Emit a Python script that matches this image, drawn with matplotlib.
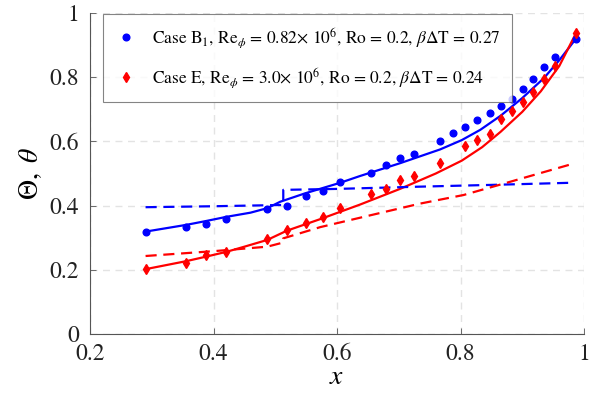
import numpy as np
import matplotlib
matplotlib.use("Agg")
import matplotlib.pyplot as plt
from matplotlib.ticker import FormatStrFormatter

plt.rcParams['font.family'] = ['STIXGeneral', 'DejaVu Serif']
plt.rcParams['mathtext.fontset'] = 'stix'

# 实验数据点 (Case B1)
xb_pts = [0.290, 0.356, 0.388, 0.421, 0.487, 0.519, 0.549, 0.577, 0.605, 0.655,
          0.679, 0.702, 0.725, 0.767, 0.788, 0.808, 0.827, 0.847, 0.865, 0.883,
          0.901, 0.918, 0.935, 0.953, 0.987]
yb_pts = [0.318, 0.333, 0.343, 0.358, 0.388, 0.398, 0.430, 0.447, 0.472, 0.503,
          0.526, 0.549, 0.562, 0.600, 0.627, 0.646, 0.667, 0.688, 0.710, 0.733,
          0.762, 0.794, 0.833, 0.864, 0.920]

# 实验数据点 (Case E)
xe_pts = [0.290, 0.356, 0.388, 0.421, 0.487, 0.519, 0.549, 0.577, 0.605, 0.655,
          0.679, 0.702, 0.725, 0.767, 0.808, 0.827, 0.847, 0.865, 0.883, 0.901,
          0.918, 0.935, 0.953, 0.987]
ye_pts = [0.202, 0.221, 0.245, 0.255, 0.297, 0.324, 0.346, 0.365, 0.391, 0.436,
          0.453, 0.481, 0.493, 0.533, 0.587, 0.604, 0.624, 0.671, 0.694, 0.723,
          0.755, 0.794, 0.835, 0.937]

# 模型曲线 (实线)
xb_fit = [0.290, 0.356, 0.388, 0.421, 0.460, 0.487, 0.508, 0.548, 0.605, 0.637,
          0.702, 0.767, 0.802, 0.832, 0.865, 0.900, 0.935, 0.960, 0.987]
yb_fit = [0.319, 0.340, 0.352, 0.365, 0.378, 0.392, 0.412, 0.438, 0.471, 0.492,
          0.532, 0.575, 0.604, 0.636, 0.680, 0.735, 0.797, 0.853, 0.920]
xe_fit = [0.290, 0.356, 0.388, 0.421, 0.450, 0.487, 0.519, 0.573, 0.637, 0.702,
          0.760, 0.802, 0.835, 0.865, 0.900, 0.930, 0.960, 0.987]
ye_fit = [0.202, 0.227, 0.241, 0.256, 0.272, 0.293, 0.322, 0.358, 0.403, 0.452,
          0.500, 0.540, 0.582, 0.630, 0.692, 0.756, 0.835, 0.937]

# 平均温度 (虚线)
xb_dash = [0.290, 0.400, 0.513, 0.513, 0.600, 0.734, 0.860, 0.977]
yb_dash = [0.395, 0.398, 0.402, 0.449, 0.452, 0.459, 0.465, 0.471]
xe_dash = [0.290, 0.400, 0.487, 0.513, 0.513, 0.573, 0.650, 0.734, 0.805, 0.880, 0.985]
ye_dash = [0.243, 0.258, 0.272, 0.285, 0.298, 0.333, 0.368, 0.406, 0.433, 0.474, 0.532]

xticks = [0.2, 0.4, 0.6, 0.8, 1.0]
yticks = [0.0, 0.2, 0.4, 0.6, 0.8, 1.0]

label_b = r'Case B$_1$, Re$_{\phi}$ = 0.82$\times$ 10$^6$, Ro = 0.2, $\beta\Delta$T = 0.27'
label_e = r'Case E, Re$_{\phi}$ = 3.0$\times$ 10$^6$, Ro = 0.2, $\beta\Delta$T = 0.24'

fig = plt.figure(figsize=(6.02, 4.07), dpi=100)
ax = fig.add_axes([90 / 602, 1 - 334 / 407, 494 / 602, 321 / 407])

ax.plot(xb_pts, yb_pts, 'o', color='#0000ff', markersize=4.8, label=label_b, zorder=3)
ax.plot(xe_pts, ye_pts, 'd', color='#ff0000', markersize=5.2, label=label_e, zorder=3)
ax.plot(xb_fit, yb_fit, '-', color='#0000ff', linewidth=1.6)
ax.plot(xe_fit, ye_fit, '-', color='#ff0000', linewidth=1.6)
ax.plot(xb_dash, yb_dash, '--', color='#0000ff', linewidth=1.6, dashes=(5, 3))
ax.plot(xe_dash, ye_dash, '--', color='#ff0000', linewidth=1.6, dashes=(5, 3))

ax.set_xlim(0.2, 1.0)
ax.set_ylim(0.0, 1.0)
ax.set_xticks(xticks)
ax.set_yticks(yticks)
ax.xaxis.set_major_formatter(FormatStrFormatter('%g'))
ax.yaxis.set_major_formatter(FormatStrFormatter('%g'))
ax.tick_params(direction='in', length=4, width=0.6, color='#555555',
               labelsize=17, labelcolor='#222222')
ax.tick_params(axis='x', pad=7)
ax.tick_params(axis='y', pad=8)

ax.grid(True, linestyle=(0, (5, 4)), color='#e3e3e3', linewidth=1.0)
ax.set_axisbelow(True)
for side in ['top', 'right']:
    ax.spines[side].set_visible(False)
for side in ['left', 'bottom']:
    ax.spines[side].set_color('#555555')
    ax.spines[side].set_linewidth(0.8)

ax.set_xlabel(r'$x$', fontsize=20, labelpad=0)
ax.set_ylabel(r'$\Theta,\ \theta$', fontsize=20, labelpad=4)

leg = ax.legend(loc='upper left', bbox_to_anchor=(13 / 494, 1 - 1 / 321),
                fontsize=12.5, frameon=True, fancybox=False,
                edgecolor='#666666', handlelength=1.2, handletextpad=0.9,
                borderpad=0.7, labelspacing=0.95, borderaxespad=0)
leg.get_frame().set_linewidth(0.8)

fig.savefig('out.png', dpi=100)
